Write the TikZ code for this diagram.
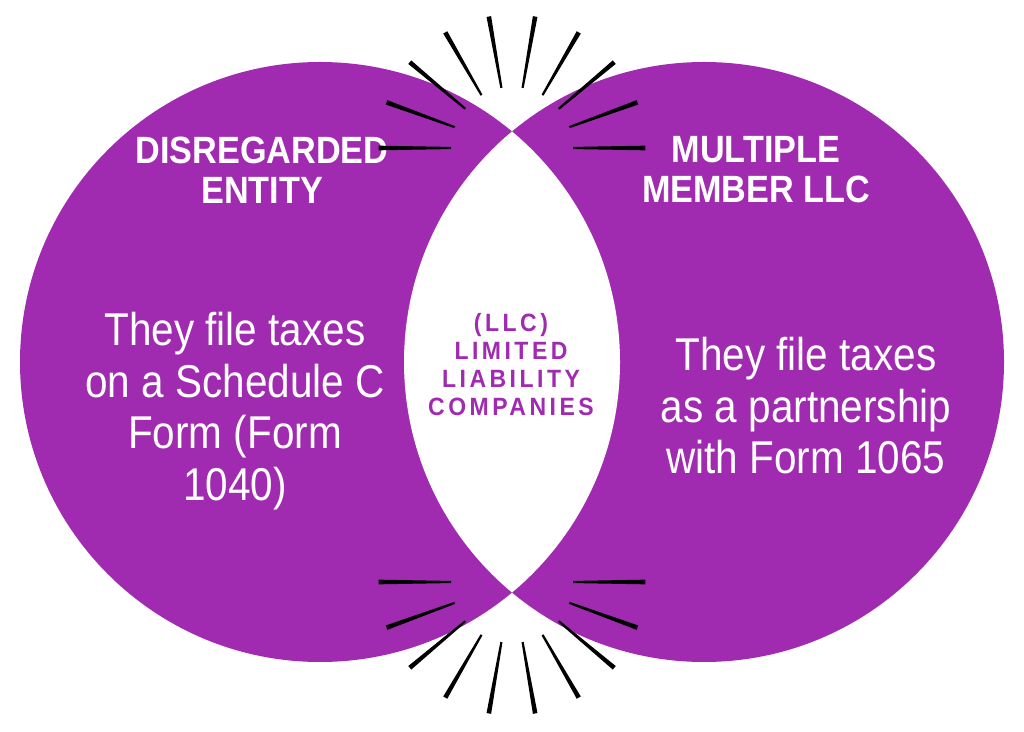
\documentclass[tikz,border=0pt]{standalone}
\usepackage{xcolor}
\usepackage{fontspec}
\usepackage{tikz}
\setmainfont{Liberation Sans}
\newfontfamily\headfont[FakeStretch=0.9]{Liberation Sans}
\newfontfamily\bodyfont[FakeStretch=0.88]{Liberation Sans}
\newfontfamily\midfont[LetterSpace=14,FakeStretch=0.92]{Liberation Sans}
\definecolor{llcpurple}{RGB}{160,43,177}

\begin{document}
\begin{tikzpicture}[x=1pt,y=1pt,
    head/.style={text=white, align=center, inner sep=0pt,
        font=\headfont\bfseries\fontsize{38}{40}\selectfont},
    body/.style={text=white, align=center, inner sep=0pt,
        font=\bodyfont\fontsize{46}{51.5}\selectfont},
    mid/.style={text=llcpurple, align=center, inner sep=0pt,
        font=\midfont\bfseries\fontsize{25}{28}\selectfont}]

\useasboundingbox (0,0) rectangle (1024,731);

% Circles
\coordinate (lc) at (320,369);
\coordinate (rc) at (704,369);
\fill[llcpurple] (lc) circle (300pt);
\fill[llcpurple] (rc) circle (300pt);

% Overlap left white
\begin{scope}
    \clip (lc) circle (300pt);
    \fill[white] (rc) circle (300pt);
\end{scope}

% Left side
\node[head] (lhead) at (262,561) {DISREGARDED\\ENTITY};
\node[body] (lbody) at (235,320) {They file taxes\\on a Schedule C\\Form (Form\\1040)};

% Right side
\node[head] (rhead) at (756,561) {MULTIPLE\\MEMBER LLC};
\node[body] (rbody) at (806,325) {They file taxes\\as a partnership\\with Form 1065};

% Middle
\node[mid] (mid) at (511,366) {(LLC)\\LIMITED\\LIABILITY\\COMPANIES};

% Rays above and below the crossings
\coordinate (topc) at (512,583);
\coordinate (botc) at (512,149);
\foreach \a in {0, 20, 40, 60, 80, 100, 120, 140, 160, 180}
    \fill[shift={(topc)}] (\a-1:61) -- (\a-1:133.5) -- (\a+1:133.5)
        -- (\a+1:61) -- cycle;
\foreach \a in {180, 200, 220, 240, 260, 280, 300, 320, 340, 360}
    \fill[shift={(botc)}] (\a-1:61) -- (\a-1:133.5) -- (\a+1:133.5)
        -- (\a+1:61) -- cycle;

\end{tikzpicture}
\end{document}
